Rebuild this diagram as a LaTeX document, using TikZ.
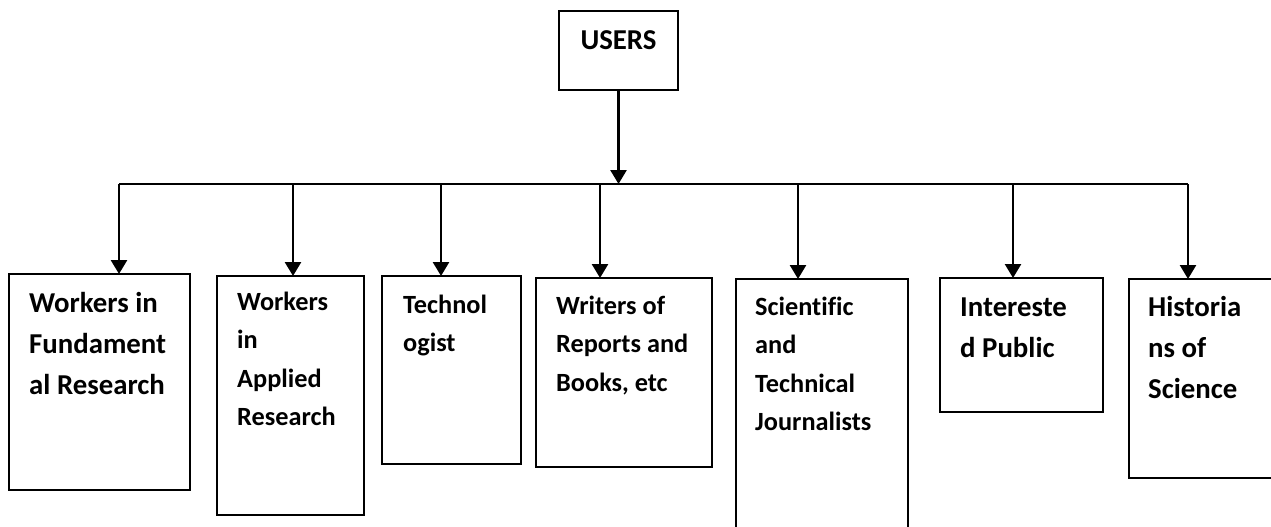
\documentclass[tikz,border=0pt]{standalone}
\usepackage{fontspec}
\setmainfont{Carlito}[Ligatures=CommonOff]
\usetikzlibrary{arrows.meta}

\begin{document}
\begin{tikzpicture}[x=1pt,y=-1pt]
   \tikzstyle{box}=[draw,line width=1.1pt,inner sep=0pt,outer sep=0pt,anchor=north west]
   \tikzstyle{big}=[inner sep=0pt,anchor=base west,align=left,font=\bfseries\fontsize{28.8pt}{41pt}\selectfont]
   \tikzstyle{small}=[inner sep=0pt,anchor=base west,align=left,font=\bfseries\fontsize{26.3pt}{38.5pt}\selectfont]
   \tikzstyle{arrow}=[draw,line width=2.6pt,-{Triangle[length=14pt,width=16pt]}]
   \clip (0,0) rectangle (1271,527) ;
   % top box
   \node (users) [box,line width=1.6pt,minimum width=119pt,minimum height=79pt] at (559,11) {} ;
   \node (userstxt) [big,anchor=base] at ([shift={(0,38)}]users.north) {USERS} ;
   % user groups
   \node (fund) [box,minimum width=181pt,minimum height=216pt] at (9,274) {} ;
   \node (appl) [box,minimum width=147pt,minimum height=239pt] at (217,276) {} ;
   \node (tech) [box,minimum width=139pt,minimum height=188pt] at (382,276) {} ;
   \node (writ) [box,minimum width=176pt,minimum height=189pt] at (536,278) {} ;
   \node (jour) [box,minimum width=172pt,minimum height=270pt] at (736,279) {} ;
   \node (pub) [box,minimum width=163pt,minimum height=134pt] at (940,278) {} ;
   \node (hist) [box,minimum width=170pt,minimum height=199pt] at (1129,279) {} ;
   % texts, anchored on their last baseline
   \node (fundtxt) [big] at ([shift={(20,120)}]fund.north west) {Workers in\\Fundament\\al Research} ;
   \node (appltxt) [small] at ([shift={(20,149.5)}]appl.north west) {Workers\\in\\Applied\\Research} ;
   \node (techtxt) [small] at ([shift={(21,75.5)}]tech.north west) {Technol\\ogist} ;
   \node (writtxt) [small] at ([shift={(20,113)}]writ.north west) {Writers of\\Reports and\\Books, etc} ;
   \node (jourtxt) [small] at ([shift={(19,151.5)}]jour.north west) {Scientific\\and\\Technical\\Journalists} ;
   \node (pubtxt) [big] at ([shift={(20,79)}]pub.north west) {Intereste\\d Public} ;
   \node (histtxt) [big] at ([shift={(19,119)}]hist.north west) {Historia\\ns of\\Science} ;
   % bus
   \coordinate (j1) at (119,184) ;
   \coordinate (j2) at (293,184) ;
   \coordinate (j3) at (441,184) ;
   \coordinate (j4) at (600,184) ;
   \coordinate (j5) at (798,184) ;
   \coordinate (j6) at (1013,184) ;
   \coordinate (j7) at (1188,184) ;
   \path [arrow] (users.south) -- (users.south |- j1) ;
   \draw [line width=2.6pt] (j1) -- (j7) ;
   \path [arrow] (j1) -- (j1 |- fund.north) ;
   \path [arrow] (j2) -- (j2 |- appl.north) ;
   \path [arrow] (j3) -- (j3 |- tech.north) ;
   \path [arrow] (j4) -- (j4 |- writ.north) ;
   \path [arrow] (j5) -- (j5 |- jour.north) ;
   \path [arrow] (j6) -- (j6 |- pub.north) ;
   \path [arrow] (j7) -- (j7 |- hist.north) ;
\end{tikzpicture}
\end{document}
